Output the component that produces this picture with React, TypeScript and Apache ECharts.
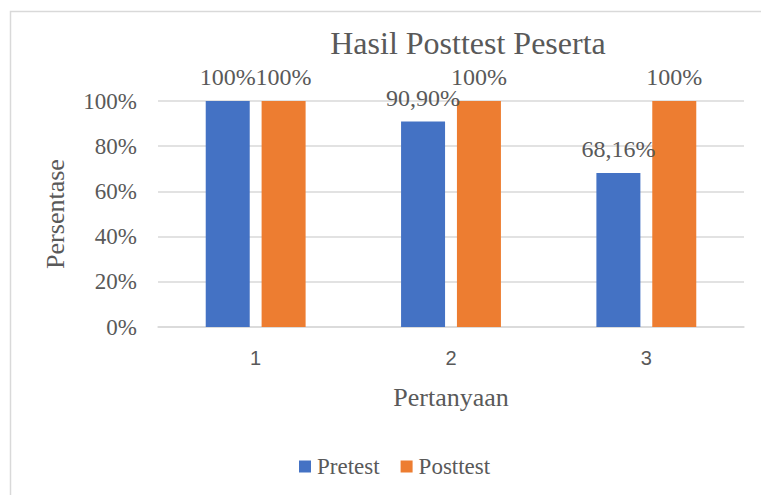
import React, { useEffect, useRef } from "react";
import * as echarts from "echarts";

const categories = ["1", "2", "3"];
const pretestValues = [100, 90.9, 68.16];
const posttestValues = [100, 100, 100];
const pretestLabels = ["100%", "90,90%", "68,16%"];
const posttestLabels = ["100%", "100%", "100%"];
const yTicks = { min: 0, max: 100, interval: 20 };

const SERIF = "'Liberation Serif', 'Times New Roman', serif";
const SANS = "'Liberation Sans', Arial, sans-serif";
const TEXT = "#595959";

export default function App() {
  const ref = useRef<HTMLDivElement>(null);
  useEffect(() => {
    if (!ref.current) return;
    const chart = echarts.init(ref.current, undefined, { renderer: "svg" });
    const labelStyle = {
      show: true,
      position: "top" as const,
      distance: 12,
      fontFamily: SERIF,
      fontSize: 24,
      color: TEXT,
    };
    chart.setOption({
      animation: false,
      backgroundColor: "#ffffff",
      title: {
        text: "Hasil Posttest Peserta",
        left: 463,
        textAlign: "center",
        top: 22,
        textStyle: { fontFamily: SERIF, fontSize: 32, fontWeight: "normal", color: TEXT },
      },
      graphic: [
        {
          type: "rect",
          shape: { x: 10.5, y: 11.5, width: 800, height: 520 },
          style: { fill: "none", stroke: "#d9d9d9", lineWidth: 1.5 },
          silent: true,
          z: -10,
        },
      ],
      legend: {
        left: 294,
        top: 450,
        itemWidth: 12,
        itemHeight: 12,
        itemGap: 21,
        icon: "rect",
        textStyle: { fontFamily: SERIF, fontSize: 23, color: TEXT, padding: [0, 0, 0, 1] },
        data: ["Pretest", "Posttest"],
      },
      grid: { left: 158, right: 17, top: 101, bottom: 168 },
      xAxis: {
        type: "category",
        data: categories,
        name: "Pertanyaan",
        nameLocation: "middle",
        nameGap: 57,
        nameTextStyle: { fontFamily: SERIF, fontSize: 26, color: TEXT },
        axisLine: { lineStyle: { color: "#d9d9d9", width: 1.5 } },
        axisTick: { show: false },
        axisLabel: { margin: 21, fontFamily: SANS, fontSize: 20, color: TEXT },
      },
      yAxis: {
        type: "value",
        min: yTicks.min,
        max: yTicks.max,
        interval: yTicks.interval,
        name: "Persentase",
        nameLocation: "middle",
        nameGap: 90,
        nameTextStyle: { fontFamily: SERIF, fontSize: 26, color: TEXT },
        axisLine: { show: false },
        axisTick: { show: false },
        splitLine: { lineStyle: { color: "#d9d9d9", width: 1.5 } },
        axisLabel: {
          margin: 21,
          formatter: "{value}%",
          fontFamily: SERIF,
          fontSize: 23,
          color: TEXT,
        },
      },
      series: [
        {
          name: "Pretest",
          type: "bar",
          data: pretestValues,
          barWidth: 44,
          barGap: "27%",
          itemStyle: { color: "#4472C4" },
          label: { ...labelStyle, formatter: (p: any) => pretestLabels[p.dataIndex] },
        },
        {
          name: "Posttest",
          type: "bar",
          data: posttestValues,
          barWidth: 44,
          barGap: "27%",
          itemStyle: { color: "#ED7D31" },
          label: { ...labelStyle, formatter: (p: any) => posttestLabels[p.dataIndex] },
        },
      ],
    });
    return () => chart.dispose();
  }, []);
  return (
    <div
      ref={ref}
      style={{ position: "fixed", left: 0, top: 0, width: 761, height: 495 }}
    />
  );
}
